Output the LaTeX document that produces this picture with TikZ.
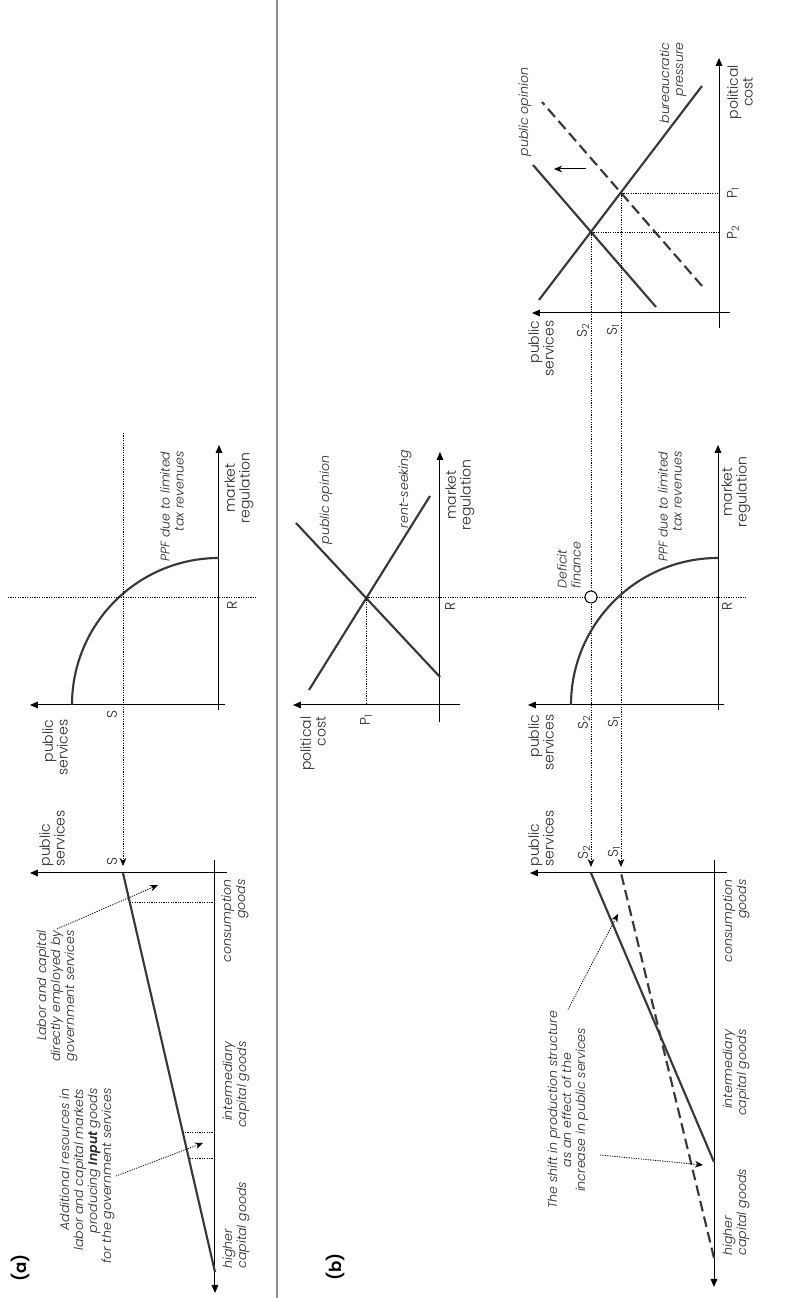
\documentclass[tikz,border=0pt]{standalone}
\usepackage{fontspec}
\setmainfont{Poppins Light}[ItalicFont={Poppins Light Italic}, BoldFont={Poppins SemiBold}, BoldItalicFont={Poppins SemiBold Italic}]
\usetikzlibrary{arrows.meta, positioning}
\definecolor{curvegray}{HTML}{383838}
\definecolor{rulegray}{HTML}{8E8E8E}

\begin{document}
\begin{tikzpicture}[x=0.75pt, y=0.75pt,
  axis/.style={-{Triangle[length=6pt, width=5pt]}, line width=0.75pt},
  curve/.style={draw=curvegray, line width=1.6pt},
  shifted/.style={curve, dash pattern=on 8pt off 4pt},
  guide/.style={line width=0.6pt, dash pattern=on 0.9pt off 0.9pt},
  pointer/.style={guide, -{Stealth[length=6pt, width=5pt]}},
  lbl/.style={font=\fontsize{10.5}{11}\selectfont, inner sep=1pt, text=black!85},
  note/.style={font=\fontsize{9.4}{10.5}\selectfont\itshape, inner sep=1pt, text=black!85},
  panel/.style={font=\fontsize{12.5}{14}\selectfont\bfseries}
]
\useasboundingbox (-793,0) rectangle (0,1298);
\begin{scope}[rotate=90, transform shape]
  % separator between (a) and (b)
  \draw[rulegray, line width=1pt] (0,516) -- (1298,516);

  % ---- (a) production structure
  \node[panel] (taga) at (30,773) {(a)};
  \draw[axis] (425,566) -- (425,763);
  \draw[axis] (438,578) -- (5,578);
  \coordinate (proda0) at (26,578);
  \coordinate (proda1) at (425,670);
  \draw[curve] (proda0) -- (proda1);
  \draw[guide] (396,578) -- (396,664);
  \draw[guide] (166,578) -- (166,610);
  \draw[guide] (140,578) -- (140,604);
  \node[lbl, anchor=west, align=left] (psa) at (430,741) {public\\services};
  \node[lbl] (sa) at (436,681) {S};
  \node[note, anchor=east, align=right] (consa) at (420,558) {consumption\\goods};
  \node[note, anchor=east, align=right] (interma) at (258,557) {intermediary\\capital goods};
  \node[note, anchor=west, align=left] (highera) at (28,557) {higher\\capital goods};
  \node[note, anchor=east, align=right] (labtxt) at (369,736) {Labor and capital\\directly employed by\\government services};
  \node[note, anchor=east, align=right] (addtxt) at (211,706) {Additional resources in\\labor and capital markets\\producing \textbf{Input} goods\\for the government services};
  \coordinate (labtip) at (413,635);
  \coordinate (addtip) at (155,590);
  \draw[pointer] (labtxt.east) -- (labtip);
  \draw[pointer] (addtxt.south) -- (addtip);

  % ---- (a) PPF
  \draw[axis] (593,568) -- (593,763);
  \draw[axis] (588,574) -- (853,574);
  \draw[curve] (593,721) arc[start angle=90, end angle=0, radius=147];
  \coordinate (ra) at (701,785);
  \coordinate (ra0) at (701,536);
  \draw[guide] (ra) -- (ra0);
  \coordinate (sppfa) at (865,670);
  \draw[pointer] (sppfa) -- (432,670);
  \node[lbl, anchor=east, align=right] (pspa) at (580,738) {public\\services};
  \node[lbl] (sppflbl) at (583,681) {S};
  \node[lbl] (rlbla) at (693,561) {R};
  \node[lbl, align=center] (mra) at (810,554) {market\\regulation};
  \node[note, anchor=east, align=right] (ppfa) at (848,621) {PPF due to limited\\tax revenues};

  % ---- (b) political cost of regulation
  \node[panel] (tagb) at (31,458) {(b)};
  \draw[axis] (593,333) -- (593,500);
  \draw[axis] (576,353) -- (846,353);
  \coordinate (eqr) at (701,427);
  \draw[curve] (621,353) -- (775,497);
  \draw[curve] (608,484) -- (802,363);
  \draw[guide] (eqr) -- (593,427);
  \draw[guide] (eqr) -- (701,46);
  \node[lbl, anchor=east, align=right] (pcb) at (583,480) {political\\cost};
  \node[lbl] (p1b) at (578,427) {P\textsubscript{1}};
  \node[lbl] (rlblb) at (692,343) {R};
  \node[lbl, align=center] (mrb) at (803,333) {market\\regulation};
  \node[note] (opinb) at (798,467) {public opinion};
  \node[note] (rentb) at (809,388) {rent-seeking};

  % ---- (b) public services and political cost
  \draw[axis] (985,63) -- (985,261);
  \draw[axis] (970,74) -- (1240,74);
  \coordinate (eq2) at (1066,202);
  \coordinate (eq1) at (1105,172);
  \draw[curve] (998,254) -- (1212,91);
  \draw[curve] (991,137) -- (1133,260);
  \draw[shifted] (1012,91) -- (1196,251);
  \draw[-{Stealth[length=6pt, width=5pt]}, line width=0.75pt] (1129,207) -- (1129,239);
  \draw[guide] (eq2) -- (1066,74);
  \draw[guide] (eq1) -- (1105,74);
  \draw[pointer] (eq2) -- (431,202);
  \draw[pointer] (eq1) -- (431,172);
  \node[lbl, anchor=east, align=right] (psc) at (979,252) {public\\services};
  \node[lbl] (s2c) at (968,210) {S\textsubscript{2}};
  \node[lbl] (s1c) at (968,180) {S\textsubscript{1}};
  \node[lbl] (p2c) at (1066,60) {P\textsubscript{2}};
  \node[lbl] (p1c) at (1105,60) {P\textsubscript{1}};
  \node[lbl, align=center] (pcc) at (1206,53) {political\\cost};
  \node[note] (opinc) at (1186,268) {public opinion};
  \node[note, anchor=east, align=right] (burc) at (1257,120) {bureaucratic\\pressure};

  % ---- (b) PPF with deficit finance
  \draw[axis] (593,69) -- (593,265);
  \draw[axis] (588,75) -- (853,75);
  \draw[curve] (593,222) arc[start angle=90, end angle=0, radius=147];
  \node[draw, circle, fill=white, line width=0.75pt, minimum size=9pt, inner sep=0pt] (deficit) at (701,202) {};
  \node[lbl, anchor=east, align=right] (psb) at (585,252) {public\\services};
  \node[lbl] (s2b) at (576,209) {S\textsubscript{2}};
  \node[lbl] (s1b) at (576,179) {S\textsubscript{1}};
  \node[lbl] (rlblc) at (692,66) {R};
  \node[note, anchor=west, align=left] (deftxt) at (708,224) {Deficit\\finance};
  \node[note, anchor=east, align=right] (ppfb) at (848,123) {PPF due to limited\\tax revenues};
  \node[lbl, align=center] (mrc) at (806,57) {market\\regulation};

  % ---- (b) shifted production structure
  \draw[axis] (425,66) -- (425,263);
  \draw[axis] (438,79) -- (11,79);
  \draw[curve] (136,79) -- (425,202);
  \draw[shifted] (40,79) -- (425,172);
  \node[lbl, anchor=west, align=left] (psd) at (430,252) {public\\services};
  \node[lbl] (s2d) at (446,209) {S\textsubscript{2}};
  \node[lbl] (s1d) at (446,179) {S\textsubscript{1}};
  \node[note, anchor=east, align=right] (consd) at (420,57) {consumption\\goods};
  \node[note, anchor=east, align=right] (intermd) at (270,57) {intermediary\\capital goods};
  \node[note, anchor=west, align=left] (higherd) at (41,57) {higher\\capital goods};
  \node[note, align=center] (shifttxt) at (188,225) {The shift in production structure\\as an effect of the\\increase in public services};
  \coordinate (shiftfoot) at (143,193);
  \coordinate (shifttip1) at (384,175);
  \coordinate (shifttip2) at (133,90);
  \draw[pointer] (shifttxt.east) -- (shifttip1);
  \draw[pointer] (shiftfoot) -- (shifttip2);
\end{scope}
\end{tikzpicture}
\end{document}
